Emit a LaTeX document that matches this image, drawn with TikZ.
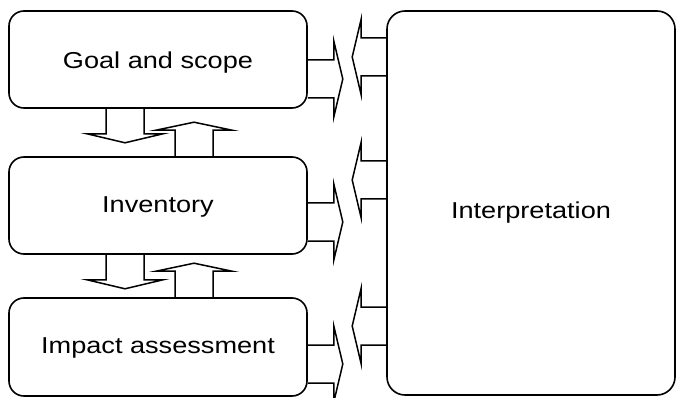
\documentclass[tikz,border=0pt]{standalone}
\usepackage{fontspec}
\newfontfamily\lblfont[FakeStretch=1.18]{Liberation Sans}
\usetikzlibrary{calc}
\begin{document}
\begin{tikzpicture}[x=1pt,y=-1pt,
  box/.style={draw, line width=1.6pt, rounded corners=15pt, minimum width=298pt,
    minimum height=97pt, inner sep=0pt, text height=16.5pt, text depth=0pt,
    font=\lblfont\fontsize{23}{27}\selectfont},
  blk/.style={draw, line width=1.5pt, line join=miter}]
\useasboundingbox (0,0) rectangle (677,398);
\node[box] (goal) at (158,59.5) {\raisebox{-1pt}{Goal and scope}};
\node[box] (inv) at (158,205.5) {\raisebox{1.5pt}{Inventory}};
\node[box, minimum height=98pt] (imp) at (158,347) {\raisebox{1.5pt}{Impact assessment}};
\node[box, minimum width=288pt, minimum height=384pt, rounded corners=18pt] (interp) at (531,203) {\raisebox{-7pt}{Interpretation}};
% right block arrows (boxes -> interpretation)
\foreach \n/\d in {goal/0.5, inv/-2.5, imp/-2}{
  \draw[blk] ($(\n.east)+(0,\d)$) -- ++(26,0) -- ++(0,-19) -- ++(9,38) -- ++(-9,38) -- ++(0,-19) -- ++(-26,0);
}
% left block arrows (interpretation -> boxes)
\foreach \d in {-165, -42, 104}{
  \draw[blk] ($(interp.west)+(0,\d)$) -- ++(-25,0) -- ++(0,-19) -- ++(-9,38) -- ++(9,38) -- ++(0,-19) -- ++(25,0);
}
% down block arrows
\foreach \n in {goal, inv}{
  \draw[blk] ($(\n.south)+(-52,0)$) -- ++(0,25) -- ++(-19,0) -- ++(38,9) -- ++(38,-9) -- ++(-19,0) -- ++(0,-25);
}
% up block arrows
\foreach \n in {inv, imp}{
  \draw[blk] ($(\n.north)+(17,0)$) -- ++(0,-26) -- ++(-19,0) -- ++(38,-8) -- ++(38,8) -- ++(-19,0) -- ++(0,26);
}
\end{tikzpicture}
\end{document}
